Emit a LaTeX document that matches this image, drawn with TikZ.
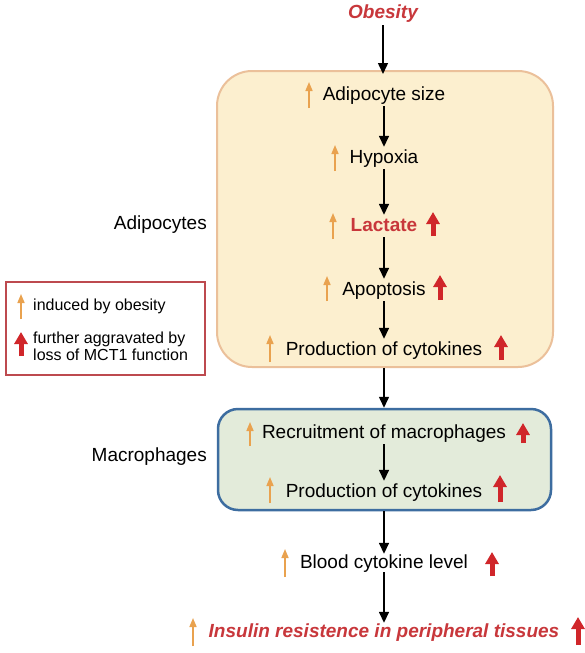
\documentclass[tikz,border=0pt]{standalone}
\usepackage{fontspec}
\setmainfont{Liberation Sans}
\usetikzlibrary{arrows.meta}
\definecolor{oarr}{HTML}{E9A24F}
\definecolor{rarr}{HTML}{D0262A}
\definecolor{rtext}{HTML}{C8373B}
\definecolor{adfill}{HTML}{FCEFCF}
\definecolor{addraw}{HTML}{EBC09A}
\definecolor{mafill}{HTML}{E3EBDA}
\definecolor{madraw}{HTML}{3D6DA0}
\definecolor{legdraw}{HTML}{BD4A4F}
\tikzset{
  txt/.style={font=\fontsize{19}{22}\selectfont, text height=14pt, text depth=4pt, inner sep=2pt},
  redtxt/.style={txt, text=rtext, font=\fontsize{19}{22}\selectfont\bfseries},
  reditxt/.style={txt, text=rtext, font=\fontsize{19}{22}\selectfont\bfseries\itshape},
  flow/.style={-{Triangle[width=10pt,length=11pt]}, line width=1.5pt, black},
  oup/.style={-{Triangle[width=7pt,length=9pt]}, line width=1.6pt, draw=oarr},
  rup/.style={-{Triangle[width=13pt,length=12pt]}, line width=5pt, draw=rarr},
  lbl/.style={font=\fontsize{19}{22}\selectfont, anchor=east, inner sep=0pt},
  legtxt/.style={font=\fontsize{16}{17}\selectfont, anchor=west, inner sep=0pt, align=left}
}
\begin{document}
\begin{tikzpicture}[x=1pt,y=-1pt]
\useasboundingbox (0,0) rectangle (584,653);
\fill[white] (0,0) rectangle (584,653);
% boxes
\node[draw=addraw, fill=adfill, line width=2pt, rounded corners=35pt, minimum width=336pt, minimum height=296pt, inner sep=0pt] (adip) at (385,219) {};
\node[draw=madraw, fill=mafill, line width=2.5pt, rounded corners=20pt, minimum width=333pt, minimum height=101pt, inner sep=0pt] (macro) at (384.5,459.5) {};
% text nodes
\node[reditxt] (ob) at (383,14) {Obesity};
\node[txt] (a1) at (384,95) {Adipocyte size};
\node[txt] (a2) at (384,158) {Hypoxia};
\node[redtxt] (a3) at (384,226) {Lactate};
\node[txt] (a4) at (384,290) {Apoptosis};
\node[txt] (a5) at (384,350) {Production of cytokines};
\node[txt] (m1) at (384,433) {Recruitment of macrophages};
\node[txt] (m2) at (384,492) {Production of cytokines};
\node[txt] (bl) at (384,563) {Blood cytokine level};
\node[reditxt] (ins) at (384,632) {Insulin resistence in peripheral tissues};
% side labels
\node[lbl] (lad) at (207,225) {Adipocytes};
\node[lbl] (lma) at (207,457) {Macrophages};
% flow arrows
\draw[flow] (ob.south) -- ([yshift=-4pt]adip.north -| ob.south);
\draw[flow] (a1) -- (a2);
\draw[flow] (a2) -- (a3);
\draw[flow] (a3) -- (a4);
\draw[flow] (a4) -- (a5);
\draw[flow] (adip.south -| a5.south) -- (macro.north -| a5.south);
\draw[flow] (m1) -- (m2);
\draw[flow] (macro.south -| m2.south) -- ([yshift=-2pt]bl.north);
\draw[flow] ([yshift=2pt]bl.south) -- ([yshift=-2pt]ins.north);
% orange arrows
\draw[oup] (309,108) -- (309,82);
\draw[oup] (335,171) -- (335,145);
\draw[oup] (333,239) -- (333,213);
\draw[oup] (327,301) -- (327,276);
\draw[oup] (270,362) -- (270,335);
\draw[oup] (250,446) -- (250,422);
\draw[oup] (270,503) -- (270,477);
\draw[oup] (285,577) -- (285,549);
\draw[oup] (193,646) -- (193,618);
% red arrows
\draw[rup] (433,236) -- (433,212);
\draw[rup] (440,300) -- (440,275);
\draw[rup] (501,360) -- (501,335);
\draw[rup] (523,443) -- (523,423);
\draw[rup] (500,502) -- (500,475);
\draw[rup] (492,576) -- (492,552);
\draw[rup] (578,645) -- (578,617);
% legend
\node[draw=legdraw, line width=1.3pt, minimum width=199pt, minimum height=93pt, inner sep=0pt] (leg) at (105.5,328.5) {};
\draw[oup] (21,319) -- (21,294);
\node[legtxt] (l1) at (33,306) {induced by obesity};
\draw[rup] (21,356) -- (21,332);
\node[legtxt] (l2) at (33,346) {further aggravated by\\loss of MCT1 function};
\end{tikzpicture}
\end{document}
